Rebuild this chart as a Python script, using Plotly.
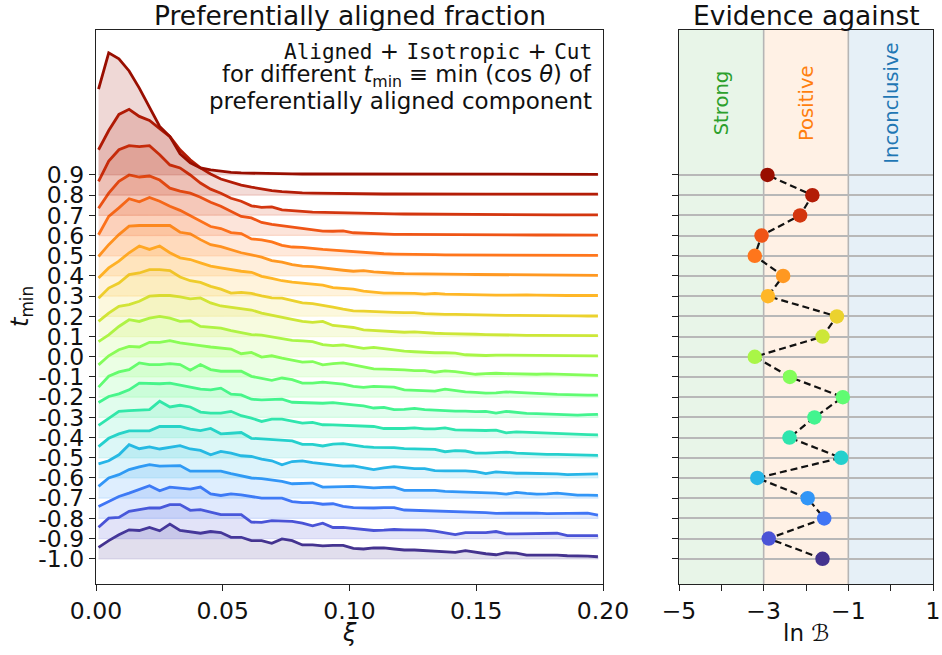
import numpy as np
import plotly.graph_objects as go

# ---------------- data ----------------
T_MIN = [-1.0, -0.9, -0.8, -0.7, -0.6, -0.5, -0.4, -0.3, -0.2, -0.1,
         0.0, 0.1, 0.2, 0.3, 0.4, 0.5, 0.6, 0.7, 0.8, 0.9]
T_LABELS = ["-1.0", "-0.9", "-0.8", "-0.7", "-0.6", "-0.5", "-0.4", "-0.3", "-0.2", "-0.1",
            "0.0", "0.1", "0.2", "0.3", "0.4", "0.5", "0.6", "0.7", "0.8", "0.9"]

# xi bin centres (50 bins over 0..0.2)
XI = np.linspace(0.001, 0.198, 50)

# preferentially aligned signal (arbitrary units) per t_min
S_m10 = [11.3, 18, 23.7, 28.7, 28, 31, 27.7, 34.3, 28, 27, 25.3, 27, 26, 21.3, 21.3, 18, 18, 15.3, 19.7, 18,
         13.7, 13.7, 12.7, 13.3, 13.3, 10.3, 9.7, 10.7, 10.7, 9.7, 8.7, 8.7, 8, 7.3, 6.7, 6.3, 8, 6.3, 5, 4,
         6, 5.7, 3.7, 3.7, 4, 3.7, 3, 3, 2.7, 2]
S_m09 = [11.3, 20.3, 21, 27, 28.7, 30.3, 30.3, 33.7, 33.7, 28, 28.7, 26.3, 23.7, 23.7, 23.7, 16.3, 16, 17.7, 17.7, 17,
         15.3, 12.7, 15.3, 11, 11, 10, 8.7, 8, 8.3, 9, 8.7, 8.7, 8.3, 7.3, 5.3, 4, 6, 6, 6, 7,
         4.7, 4.7, 4.7, 4.7, 5, 5.3, 3, 3, 3, 3]
S_m08 = [11.7, 16.7, 21.7, 25, 28.3, 32.3, 27.3, 31, 30, 29, 31, 24.3, 22.7, 24.3, 23.3, 21.7, 20, 20, 20, 16.7,
         15.7, 15.7, 14, 14.5, 12, 10.7, 10.3, 10.3, 10.7, 10.7, 8.3, 8, 7.7, 7, 6.7, 6.7, 6.7, 6.3, 5.7, 5,
         5, 5.3, 5.7, 5.3, 4.7, 5, 4.7, 5.3, 5.3, 3.3]
S_m07 = [11.7, 20, 23.3, 28.3, 31, 33.3, 31.7, 31.7, 32.3, 26.7, 26.7, 26.7, 26.7, 24.3, 22.3, 20, 19.3, 18.3, 16.7, 14.3,
         14.3, 15, 11, 11.3, 11.3, 11.7, 11, 10.3, 10.7, 11, 7.7, 7.7, 8.3, 7.7, 6.7, 6.3, 6, 6, 5.7, 5,
         4, 5.7, 4.7, 4, 4.3, 5, 4, 3, 3, 2.7]
S_m06 = [14, 17, 23, 33, 29, 30.7, 28.7, 30.7, 32, 28.7, 27.3, 23, 26.3, 24.7, 22, 21.3, 18.7, 17, 13, 16.3,
         17, 15.3, 14, 13.2, 11.7, 12, 10.3, 8.3, 10, 11.3, 10.3, 9.3, 9.3, 7.3, 7, 7.3, 7, 6.3, 4.3, 6,
         5, 4.7, 4.7, 4.7, 4.3, 4, 3.3, 3.3, 3.7, 4]
S_m05 = [11, 19.3, 23.7, 26.7, 26.7, 26.7, 31, 31, 31, 28.3, 27, 29, 23.7, 24.3, 25, 19.3, 18.7, 18.3, 17.7, 16.7,
         13.3, 13.3, 11.7, 13.5, 14, 12.3, 11, 10.3, 10.3, 10, 9, 8.7, 9, 8.3, 6, 7, 6.7, 4.7, 4.7, 5.3,
         5.7, 4.7, 4, 3.3, 3.3, 3.3, 3, 2.7, 2.7, 2.3]
S_m04 = [12, 19.3, 26, 26.7, 27, 27.7, 36, 30.3, 32, 30.3, 25.3, 24.3, 24.3, 26, 21.7, 19.3, 16, 18.3, 18.3, 16,
         14.3, 15, 12.7, 12.5, 12.3, 11.7, 11.7, 11, 9, 8.7, 9, 9.7, 8.7, 8.7, 9.7, 7.7, 7.3, 6.7, 7, 7.3,
         4.7, 5.7, 5.3, 4.3, 4, 4, 3.7, 3.3, 3, 2.7]
S_m03 = [14.7, 20.7, 23.3, 27.3, 34, 33.3, 33.3, 34, 32.3, 30, 28, 27.3, 29, 23, 22.3, 18, 17.3, 18, 18, 15,
         14.7, 14.7, 14, 14.7, 13.3, 12.3, 11.3, 9.3, 10, 7.7, 8, 9, 7.7, 7, 6.3, 6.3, 6.3, 5.7, 6, 4.3,
         6, 4.7, 4, 3.7, 3.3, 2.7, 2.3, 2.3, 2.7, 3]
S_m02 = [10, 20.7, 25, 27.3, 34, 32.3, 32.3, 33.3, 32.3, 26.7, 32.3, 27.3, 25.7, 25.7, 25.7, 20.7, 19, 16.7, 19, 17.3,
         14, 14, 15, 14, 13, 10.7, 9.7, 10.7, 10.7, 10, 7.3, 7, 6, 6, 8, 6.3, 5.3, 4.7, 4, 4.3,
         5.3, 4.7, 4, 3.7, 3.3, 2.7, 2.3, 2.3, 2, 2]
S_m01 = [12, 21, 27, 30.3, 29.7, 34.3, 34.3, 36, 33.7, 32.7, 31, 29.7, 28.7, 27.7, 23, 24.3, 19.7, 21, 18.7, 17,
         14.7, 15.3, 12, 13.3, 14, 12, 10.3, 8, 7.7, 7.7, 7, 6.3, 6.3, 4.7, 6, 5.3, 4.3, 2.7, 3.3, 3.7,
         3.3, 3, 2.7, 2.7, 3, 2.7, 2.3, 2, 2, 1.7]
S_p00 = [15, 21.7, 30, 36.7, 35, 38.3, 40, 38.3, 35, 35.7, 30, 29.3, 28.3, 26, 24, 22, 21.5, 20, 18, 16.3,
         15.7, 15, 12, 11, 11.7, 10, 8.3, 9.3, 8, 6.7, 5.7, 5, 4.3, 4, 4, 3.7, 2, 1.3, 1.3, 1.7,
         1.7, 1.7, 1.7, 1.3, 1.3, 1, 1, 1, 1, 1]
S_p01 = [15, 23.3, 30, 31.7, 35, 40, 40.7, 40.7, 39.3, 37.3, 38.3, 33.3, 30.3, 29, 28.3, 26.3, 23.3, 21, 18.7, 17,
         15, 14, 15, 11, 10.2, 9, 6.7, 6, 5.7, 5, 4.3, 4.7, 3.7, 3.3, 3, 3, 2.3, 2.3, 2, 1.7,
         1.7, 1.7, 1.3, 1.3, 1.3, 1, 1, 1, 1, 1]
S_p02 = [18, 28, 33, 41.3, 43, 46.3, 46.3, 45.3, 39, 35.3, 33.7, 29.7, 27, 23, 23.7, 22.7, 20.3, 18.3, 18, 15.7,
         13.3, 12.7, 11.3, 9.2, 7.2, 5.5, 5.3, 4.7, 4, 4, 3.7, 3.7, 2.7, 2, 2, 2, 1.7, 1.7, 1.3, 1.3,
         1, 1, 0.8, 0.8, 0.7, 0.6, 0.5, 0.5, 0.4, 0.4]
S_p03 = [18, 28, 34.7, 43, 49.7, 46.3, 49.7, 43, 38, 36.3, 33, 29.7, 28, 26, 24.7, 23.7, 19.7, 17.7, 15.3, 14,
         13, 12, 11, 8.5, 8, 7, 5, 3.7, 3, 3, 3, 2.7, 2, 2.7, 2, 1.7, 1.3, 1.3, 1, 1,
         1, 1.3, 1.3, 1, 0.7, 0.7, 0.7, 0.7, 0.7, 0.7]
S_p04 = [19.3, 31, 41, 49.3, 50, 50, 50, 50, 43.3, 41.7, 36, 31, 29, 26, 23, 21, 18.7, 15.3, 13.7, 11.3,
         9.7, 9.3, 8, 6.3, 5.7, 4.7, 5.3, 4, 3, 2.7, 2.3, 2.3, 2, 2, 1.8, 1.7, 1.6, 1.5, 1.4, 1.3,
         1.3, 1.2, 1.2, 1.1, 1.0, 0.9, 0.8, 0.7, 0.6, 0.6]
S_p05 = [20.8, 39, 47.5, 56.5, 53.5, 57.8, 54, 49, 45, 39.8, 34, 29, 27, 23, 22, 16.7, 15.7, 13.7, 10.3, 8.7,
         8.3, 7, 6.3, 5.7, 5, 4, 3, 2.4, 2, 1.7, 1.4, 1.3, 1.2, 1.1, 1.0, 1.0, 0.9, 0.9, 0.8, 0.8,
         0.7, 0.7, 0.7, 0.6, 0.6, 0.6, 0.5, 0.5, 0.5, 0.4]
S_p06 = [27, 42, 53.7, 60, 58, 59, 55, 47, 44, 42, 38, 33, 29, 24, 19, 17.5, 13, 11, 9.7, 8.3,
         6.7, 5.7, 4.5, 4.3, 4.7, 2.8, 2.3, 1.7, 1.5, 1.3, 1.2, 1.1, 1, 1, 0.9, 0.9, 0.8, 0.8, 0.8, 0.7,
         0.7, 0.7, 0.6, 0.6, 0.6, 0.6, 0.5, 0.5, 0.5, 0.5]
S_p07 = [33.7, 53.7, 65, 69, 68, 69, 60, 50, 47, 40, 32, 26, 22, 17, 14, 9.5, 8, 8.5, 5.5, 4.5,
         4, 3.3, 3, 2.6, 2.3, 2.1, 2, 1.8, 1.7, 1.5, 1.4, 1.3, 1.2, 1.1, 1, 1, 0.9, 0.9, 0.8, 0.8,
         0.8, 0.7, 0.7, 0.7, 0.7, 0.6, 0.6, 0.6, 0.6, 0.6]
S_p08 = [45, 64, 80, 85, 78, 74, 66, 58, 45, 35, 27, 21, 16, 13, 10, 8, 6, 4.5, 3.5, 2.5,
         2.2, 2, 1.8, 1.6, 1.5, 1.4, 1.3, 1.2, 1.2, 1.2, 1.1, 1.1, 1.1, 1.1, 1.0, 1.0, 1.0, 1.0, 1.0, 1.0,
         1.0, 1.0, 1.0, 1.0, 1.0, 1.0, 1.0, 1.0, 1.0, 1.0]
S_p09 = [85, 121, 115, 103, 86, 67, 48, 38, 21, 12, 7, 5, 3.5, 2.5, 2, 1.7, 1.5, 1.3, 1.2, 1.1,
         1, 1, 1, 0.9, 0.9, 0.9, 0.8, 0.8, 0.8, 0.8, 0.8, 0.7, 0.7, 0.7, 0.7, 0.7, 0.7, 0.7, 0.7, 0.7,
         0.7, 0.7, 0.7, 0.7, 0.7, 0.7, 0.7, 0.7, 0.7, 0.7]

SIGNALS = [S_m10, S_m09, S_m08, S_m07, S_m06, S_m05, S_m04, S_m03, S_m02, S_m01,
           S_p00, S_p01, S_p02, S_p03, S_p04, S_p05, S_p06, S_p07, S_p08, S_p09]

# Bayes factor (ln B) per t_min
LN_B = [-1.61, -2.88, -1.57, -1.96, -3.15, -1.17, -2.39, -1.80, -1.13, -2.38,
        -3.21, -1.61, -1.27, -2.90, -2.54, -3.21, -3.05, -2.14, -1.85, -2.91]

RIDGE_SCALE = 0.005  # signal units -> t axis units

# ---------------- styling helpers ----------------
def turbo(x):
    r = 0.13572138 + x*(4.61539260 + x*(-42.66032258 + x*(132.13108234 + x*(-152.94239396 + x*59.28637943))))
    g = 0.09140261 + x*(2.19418839 + x*(4.84296658 + x*(-14.18503333 + x*(4.27729857 + x*2.82956604))))
    b = 0.10667330 + x*(12.64194608 + x*(-60.58204836 + x*(110.36276771 + x*(-89.90310912 + x*27.34824973))))
    return tuple(int(round(255*min(1, max(0, v)))) for v in (r, g, b))

n = len(T_MIN)
COLORS = [turbo(0.045 + 0.91*k/(n-1)) for k in range(n)]
def rgb(c):
    return "rgb(%d,%d,%d)" % c
def rgba(c, a):
    return "rgba(%d,%d,%d,%.3f)" % (c[0], c[1], c[2], a)

W, H = 942, 655
FONT = "DejaVu Sans"
MONO = "DejaVu Sans Mono"
def px(x):
    return x / W
def py(y):
    return 1 - y / H

fig = go.Figure()

# ---------------- left panel: ridgelines ----------------
for k, t in enumerate(T_MIN):
    c = COLORS[k]
    y = t + RIDGE_SCALE * np.array(SIGNALS[k])
    xs = list(XI) + list(XI[::-1])
    ys = list(y) + [t] * len(XI)
    fig.add_trace(go.Scatter(x=xs, y=ys, mode="lines", fill="toself",
                             fillcolor=rgba(c, 0.16), line=dict(color=rgba(c, 0.16), width=1.2),
                             hoverinfo="skip", showlegend=False, xaxis="x", yaxis="y"))
    fig.add_trace(go.Scatter(x=XI, y=y, mode="lines", line=dict(color=rgb(c), width=2.8),
                             showlegend=False, xaxis="x", yaxis="y"))

# ---------------- right panel ----------------
fig.add_trace(go.Scatter(x=LN_B, y=T_MIN, mode="lines",
                         line=dict(color="#111111", width=2.2, dash="7px,4px"),
                         showlegend=False, xaxis="x2", yaxis="y2"))
fig.add_trace(go.Scatter(x=LN_B, y=T_MIN, mode="markers",
                         marker=dict(color=[rgb(c) for c in COLORS], size=14.5, line=dict(width=0)),
                         showlegend=False, xaxis="x2", yaxis="y2"))

YR = [-1.1248, 1.6178]
ax_common = dict(showline=True, mirror=True, linecolor="#222222", linewidth=1.4,
                 ticks="outside", ticklen=6, tickwidth=1.3, tickcolor="#222222",
                 zeroline=False, automargin=False,
                 tickfont=dict(family=FONT, size=23.5, color="#111111"))

shapes = []
for x0, x1, col in [(-5, -3, (44, 160, 44)), (-3, -1, (255, 127, 14)), (-1, 1, (31, 119, 180))]:
    shapes.append(dict(type="rect", xref="x2", yref="y2 domain", x0=x0, x1=x1, y0=0, y1=1,
                       fillcolor=rgba(col, 0.11), line=dict(width=0), layer="below"))
for xv in (-3, -1):
    shapes.append(dict(type="line", xref="x2", yref="y2 domain", x0=xv, x1=xv, y0=0, y1=1,
                       line=dict(color="#b5b5b5", width=1.6), layer="below"))

def mono(s):
    return "<span style=\"font-family:'%s';font-size:21px\">%s</span>" % (MONO, s)

annotations = [
    dict(text="Preferentially aligned fraction", x=px(349.5), y=py(15.5), xref="paper", yref="paper",
         showarrow=False, font=dict(family=FONT, size=26.5, color="#111111"), xanchor="center", yanchor="middle"),
    dict(text="Evidence against", x=px(806), y=py(15.5), xref="paper", yref="paper",
         showarrow=False, font=dict(family=FONT, size=26.5, color="#111111"), xanchor="center", yanchor="middle"),
    dict(text="<i>ξ</i>", x=px(349.5), y=py(633), xref="paper", yref="paper",
         showarrow=False, font=dict(family=FONT, size=24, color="#111111"), xanchor="center", yanchor="middle"),
    dict(text="ln ℬ", x=px(806), y=py(633), xref="paper", yref="paper",
         showarrow=False, font=dict(family=FONT, size=23, color="#111111"), xanchor="center", yanchor="middle"),
    dict(text="<i>t</i><sub>min</sub>", x=px(21), y=py(307), xref="paper", yref="paper", textangle=-90,
         showarrow=False, font=dict(family=FONT, size=24, color="#111111"), xanchor="center", yanchor="middle"),
    dict(text=mono("Aligned") + " + " + mono("Isotropic") + " + " + mono("Cut"),
         x=px(594), y=py(51), xref="paper", yref="paper",
         showarrow=False, font=dict(family=FONT, size=23, color="#111111"), xanchor="right", yanchor="middle"),
    dict(text="for different <i>t</i><sub>min</sub> ≡ min (cos <i>θ</i>) of",
         x=px(594), y=py(76.5), xref="paper", yref="paper",
         showarrow=False, font=dict(family=FONT, size=22.6, color="#111111"), xanchor="right", yanchor="middle"),
    dict(text="preferentially aligned component",
         x=px(594), y=py(101), xref="paper", yref="paper",
         showarrow=False, font=dict(family=FONT, size=23, color="#111111"), xanchor="right", yanchor="middle"),
]
for label, xv, col in [("Strong", -4, "#2ca02c"), ("Positive", -2, "#ff7f0e"), ("Inconclusive", 0, "#1f77b4")]:
    annotations.append(dict(text=label, x=xv, y=py(103), xref="x2", yref="paper", textangle=-90,
                            showarrow=False, font=dict(family=FONT, size=19.6, color=col),
                            xanchor="center", yanchor="middle"))

fig.update_layout(
    width=W, height=H, margin=dict(l=0, r=0, t=0, b=0, autoexpand=False),
    paper_bgcolor="white", plot_bgcolor="white",
    font=dict(family=FONT, size=22, color="#111111"),
    showlegend=False,
    xaxis=dict(domain=[px(96), px(603)], range=[0, 0.2], anchor="y",
               tickvals=[0, 0.05, 0.10, 0.15, 0.20], ticktext=["0.00", "0.05", "0.10", "0.15", "0.20"],
               showgrid=False, **ax_common),
    yaxis=dict(domain=[py(584), py(30)], range=YR, anchor="x",
               tickvals=T_MIN, ticktext=T_LABELS, showgrid=False, **ax_common),
    xaxis2=dict(domain=[px(679), px(933)], range=[-5, 1], anchor="y2",
                tickvals=[-5, -3, -1, 1], ticktext=["−5", "−3", "−1", "1"],
                minor=dict(tickmode="array", tickvals=[-4, -2, 0], ticks="outside", ticklen=6,
                           tickwidth=1.3, tickcolor="#222222", showgrid=False),
                showgrid=False, **ax_common),
    yaxis2=dict(domain=[py(584), py(30)], range=YR, anchor="x2",
                tickvals=T_MIN, showticklabels=False, showgrid=True,
                gridcolor="#b8b8b8", gridwidth=1.6, **ax_common),
    shapes=shapes, annotations=annotations,
)

fig.write_html("out.html")
